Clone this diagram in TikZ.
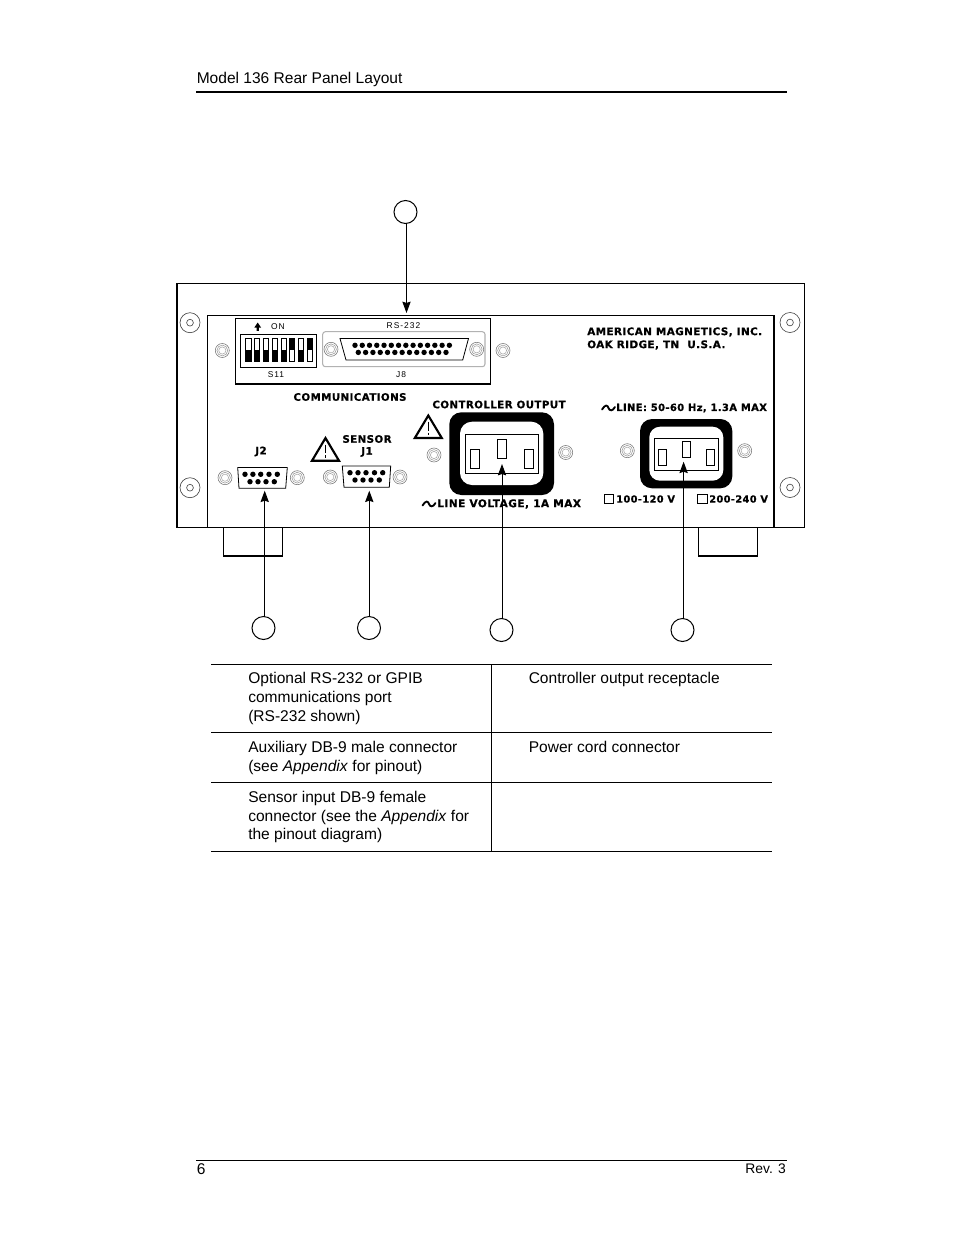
\documentclass[tikz,border=0pt]{standalone}
\usepackage{fontspec}
\setmainfont{Liberation Sans}
\newfontfamily\panelbold[LetterSpace=4,FakeBold=0.6]{DejaVu Sans Bold}
\newfontfamily\panelthin[LetterSpace=12]{Liberation Sans}
\usetikzlibrary{arrows.meta,shapes.geometric}
\tikzset{
  x=0.75pt,y=-0.75pt,
  thinl/.style={draw=black,line width=0.8pt},
  hair/.style={draw=black,line width=0.6pt},
  callout/.style={circle,draw=black,line width=0.75pt,minimum size=17.25pt,inner sep=0pt},
  lead/.style={draw=black,line width=0.75pt,-{Stealth[length=8.5pt,width=6.2pt,inset=1pt]}},
  body/.style={anchor=base west,inner sep=0pt,font=\fontsize{11.66}{14}\selectfont},
  plab/.style={inner sep=0pt,font=\panelbold\fontsize{7.7}{8}\selectfont},
  tlab/.style={inner sep=0pt,font=\panelthin\fontsize{6.3}{7}\selectfont},
  slot/.style={draw=black,line width=0.6pt,fill=white},
  wave/.style={draw=black,line width=1.4pt,line cap=round},
  warn/.style={draw=black,line width=1.6pt,line join=miter},
  screw/.pic={
    \fill[white] (0,0) circle (6.5);
    \draw[black!55,line width=0.4pt] (0,0) circle (7);
    \draw[black!40,line width=0.4pt] (0,0) circle (5.4);
    \draw[black!35,line width=0.4pt] (0,0) circle (3.6);
  },
  ring/.pic={
    \draw[black!75,line width=0.45pt] (0,0) circle (10);
    \draw[black!75,line width=0.45pt] (0,0) circle (3.4);
  },
  pin/.pic={\fill[black] (0,0) circle (2.7);},
}
\begin{document}
\begin{tikzpicture}
\useasboundingbox (0,0) rectangle (954,1235);
\fill[white] (0,0) rectangle (954,1235);

% page header and footer
\node[body] (title) at (196.5,83) {Model 136 Rear Panel Layout};
\draw[black,line width=1.5pt] (196,92) -- (787,92);
\draw[black,line width=0.6pt] (196,1160) -- (787,1160);
\node[body] (pageno) at (196.5,1174) {6};
\node[anchor=base east,inner sep=0pt,font=\fontsize{10.4}{11}\selectfont] (rev) at (786,1173.5) {Rev. 3};

% chassis
\draw[thinl] (177,283.5) rectangle (804.5,527.5);
\draw[thinl] (207.5,527.5) -- (207.5,315.5) -- (774,315.5) -- (774,527.5);
\draw[thinl] (223.5,527.5) -- (223.5,556) -- (282.5,556) -- (282.5,527.5);
\draw[thinl] (698.5,527.5) -- (698.5,556) -- (757.5,556) -- (757.5,527.5);
\foreach \x/\y in {190/322.7,790/322.5,190/487.7,790/487.5} \pic at (\x,\y) {ring};

% communications bay
\draw[thinl] (235.5,318.5) rectangle (490.5,384);
\draw[black,line width=0.8pt] (240.7,334.5) rectangle (316.7,367.5);
\foreach \x/\m/\t in {245.8/350/1,254.2/350/1,263/350/1,272/350/1,281/350/1,289.3/350/0,298.3/350/1,307/350/0}{
  \draw[hair,fill=white] (\x,338.5) rectangle (\x+5.2,361.5);
  \ifnum\t=1 \fill[black] (\x,\m) rectangle (\x+5.2,361.5);
  \else \fill[black] (\x,338.5) rectangle (\x+5.2,\m); \fi
}
\fill[black] (257.7,322.5) -- (261,327.5) -- (258.9,327.5) -- (258.9,330.8) -- (256.5,330.8) -- (256.5,327.5) -- (254.4,327.5) -- cycle;
\node[tlab] (on) at (278,326.5) {ON};
\node[tlab] (rs) at (403.5,325.5) {RS-232};
\node[tlab] (s11) at (276,374.5) {S11};
\node[tlab] (j8) at (401,374.5) {J8};
\draw[black!30,line width=0.8pt,rounded corners=2pt] (322.7,331.7) rectangle (485,366.7);
\draw[hair] (340,338.5) -- (468.5,338.5) -- (462.7,360) -- (346,360) -- cycle;
\foreach \i in {0,...,13} \pic at ({355+\i*7.26},345.3) {pin};
\foreach \i in {0,...,12} \pic at ({358.3+\i*7.31},352.4) {pin};
\foreach \x/\y in {331/349.3,476.7/349.3,222.3/350.5,503/350.5} \pic at (\x,\y) {screw};
\node[plab] (comm) at (350,397) {COMMUNICATIONS};
\node[plab,anchor=west,font=\panelbold\fontsize{7.8}{8}\selectfont] (amer) at (587,332) {AMERICAN MAGNETICS, INC.};
\node[plab,anchor=west,font=\panelbold\fontsize{7.8}{8}\selectfont] (oak) at (587,345) {OAK RIDGE, TN\ \ U.S.A.};

% J2
\node[plab] (j2) at (261,451.5) {J2};
\draw[hair] (237.7,467.5) -- (287.3,467.5) -- (285.7,488.3) -- (239,488.3) -- cycle;
\foreach \x in {245,252.9,260.7,269,277.3} \pic at (\x,474.3) {pin};
\foreach \x in {250,258,266,274.3} \pic at (\x,481.7) {pin};
\foreach \x in {225,297.3} \pic at (\x,477.7) {screw};

% J1
\node[plab] (sensor) at (367,439) {SENSOR};
\node[plab] (j1) at (367,452) {J1};
\draw[hair] (342.3,466) -- (390.7,466) -- (389.3,487.3) -- (344,487.3) -- cycle;
\foreach \x in {350,358,366,374.5,382.7} \pic at (\x,472.7) {pin};
\foreach \x in {355,363,371,379.3} \pic at (\x,480) {pin};
\foreach \x in {330.3,400} \pic at (\x,477) {screw};

% warning triangles
\draw[warn] (325.5,438) -- (339,460.7) -- (312,460.7) -- cycle;
\draw[black,line width=0.9pt] (325.5,444.5) -- (325.5,453) (325.5,455) -- (325.5,457.5);
\draw[warn] (428.3,415.5) -- (441.8,438) -- (414.8,438) -- cycle;
\draw[black,line width=0.9pt] (428.3,421.5) -- (428.3,430.5) (428.3,432.5) -- (428.3,435);

% controller output receptacle
\node[plab] (ctrl) at (499,404.5) {CONTROLLER OUTPUT};
\fill[black,rounded corners=9pt] (449.3,412.3) rectangle (554,495);
\fill[white,rounded corners=9pt] (460,421.7) rectangle (543.3,485);
\draw[hair] (465.3,434) rectangle (538.3,473.3);
\draw[slot] (470.7,449.3) rectangle (479.3,468.3);
\draw[slot] (497.3,439.3) rectangle (506.7,458.3);
\draw[slot] (524.3,449.3) rectangle (533.7,468.3);
\foreach \x/\y in {434/455,565.7/452.5} \pic at (\x,\y) {screw};
\draw[wave] (422.5,505.5) .. controls (426,500) and (428,501) .. (429,504) .. controls (430,507) and (433,507.5) .. (435.5,503);
\node[plab,anchor=west,font=\panelbold\fontsize{7.95}{8}\selectfont] (linev) at (437,504) {LINE VOLTAGE, 1A MAX};

% power receptacle
\node[plab,anchor=west,font=\panelbold\fontsize{7.45}{8}\selectfont] (linep) at (616,408) {LINE: 50-60 Hz, 1.3A MAX};
\draw[wave] (602,409.5) .. controls (605.5,404) and (607.5,405) .. (608.5,408) .. controls (609.5,411) and (612.5,411.5) .. (615,407);
\fill[black,rounded corners=9pt] (640,419) rectangle (732.3,488.3);
\fill[white,rounded corners=8pt] (649.3,426.7) rectangle (723.3,480.7);
\draw[hair] (654.3,438.3) rectangle (718.3,470.7);
\draw[slot] (658.3,449) rectangle (666.7,465.7);
\draw[slot] (682.3,441.3) rectangle (690.3,457.3);
\draw[slot] (706.7,449) rectangle (714.7,465.7);
\foreach \x in {627.3,744.7} \pic at (\x,450.7) {screw};
\draw[hair] (604,494) rectangle (613,503);
\draw[hair] (697.5,494) rectangle (707,503);
\node[plab,anchor=west,font=\panelbold\fontsize{7.35}{8}\selectfont] (v1) at (616,499) {100-120 V};
\node[plab,anchor=west,font=\panelbold\fontsize{7.35}{8}\selectfont] (v2) at (709,499) {200-240 V};

% callouts
\node[callout] (ca) at (405.5,212) {};
\node[callout] (cb) at (263.5,628) {};
\node[callout] (cc) at (369,628) {};
\node[callout] (cd) at (501.5,630) {};
\node[callout] (ce) at (682.5,630) {};
\coordinate (ta) at (406.5,313);
\coordinate (tb) at (264.7,490.7);
\coordinate (tc) at (369.3,490.7);
\coordinate (td) at (502,464);
\coordinate (te) at (683.6,461.7);
\draw[lead] (ca.south -| ta) -- (ta);
\draw[lead] (cb.north -| tb) -- (tb);
\draw[lead] (cc.north -| tc) -- (tc);
\draw[lead] (cd.north -| td) -- (td);
\draw[lead] (ce.north -| te) -- (te);

% table
\foreach \y in {664.5,732.5,782.5,851.5} \draw[black,line width=0.6pt] (211,\y) -- (772,\y);
\draw[black,line width=0.6pt] (491,664.5) -- (491,851.5);
\node[body] (a1) at (248,683) {Optional RS-232 or GPIB};
\node[body] (a2) at (248,702) {communications port};
\node[body] (a3) at (248,721) {(RS-232 shown)};
\node[body] (b1) at (248,752) {Auxiliary DB-9 male connector};
\node[body] (b2) at (248,771) {(see \textit{Appendix} for pinout)};
\node[body] (c1) at (248,802) {Sensor input DB-9 female};
\node[body] (c2) at (248,821) {connector (see the \textit{Appendix} for};
\node[body] (c3) at (248,839) {the pinout diagram)};
\node[body] (d1) at (528.5,683) {Controller output receptacle};
\node[body] (e1) at (528.5,752) {Power cord connector};
\end{tikzpicture}
\end{document}
